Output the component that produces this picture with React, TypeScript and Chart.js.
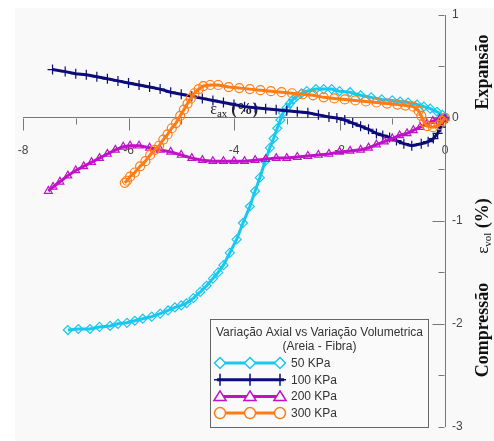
import React, { useEffect, useRef } from 'react';
import { Chart, registerables } from 'chart.js';

Chart.register(...registerables);

const legendTitle1 = 'Variação Axial vs Variação Volumetrica';
const legendTitle2 = '(Areia - Fibra)';
const seriesLabels = ['50 KPa', '100 KPa', '200 KPa', '300 KPa'];
const seriesColors = ['#19c8f0', '#0c0c78', '#c012c8', '#ff7c14'];
const seriesMarkers = ['rectRot', 'cross', 'triangle', 'circle'];
const xMajorTicks = [-8, -6, -4, -2, 0];
const xMinorTicks = [-7, -5, -3, -1];
const yMajorTicks = [-2, -1, 0];
const yMinorTicks = [-3, -2.5, -1.5, -0.5, 0.5, 1];

// 50 KPa (cyan, diamonds)
const s50: [number, number][] = [
  [0, 0], [-0.05, 0.03], [-0.15, 0.06], [-0.28, 0.09], [-0.4, 0.11], [-0.53, 0.13], [-0.7, 0.15],
  [-0.85, 0.16], [-1.0, 0.17], [-1.2, 0.18], [-1.4, 0.2], [-1.6, 0.22], [-1.8, 0.25], [-2.0, 0.26],
  [-2.15, 0.28], [-2.3, 0.28], [-2.45, 0.28], [-2.62, 0.26], [-2.72, 0.24], [-2.81, 0.21], [-2.88, 0.18],
  [-2.94, 0.14], [-3.0, 0.1], [-3.07, 0.05], [-3.12, -0.02], [-3.18, -0.1], [-3.25, -0.2], [-3.32, -0.29],
  [-3.41, -0.42], [-3.51, -0.58], [-3.6, -0.71], [-3.7, -0.86], [-3.83, -1.02], [-3.95, -1.18],
  [-4.08, -1.31], [-4.2, -1.43], [-4.3, -1.5], [-4.4, -1.56], [-4.52, -1.63], [-4.64, -1.69],
  [-4.77, -1.75], [-4.9, -1.8], [-5.0, -1.82], [-5.12, -1.84], [-5.25, -1.87], [-5.4, -1.9],
  [-5.56, -1.93], [-5.73, -1.95], [-5.88, -1.97], [-6.03, -1.99], [-6.2, -2.0], [-6.35, -2.02],
  [-6.55, -2.03], [-6.73, -2.05], [-6.95, -2.05], [-7.15, -2.06],
];

// 100 KPa (navy, crosses)
const s100: [number, number][] = [
  [0, 0], [-0.04, -0.04], [-0.08, -0.09], [-0.14, -0.15], [-0.22, -0.2], [-0.32, -0.23], [-0.45, -0.25],
  [-0.63, -0.27], [-0.78, -0.25], [-0.92, -0.22], [-1.05, -0.19], [-1.18, -0.17], [-1.3, -0.15],
  [-1.45, -0.11], [-1.6, -0.08], [-1.75, -0.05], [-1.9, -0.02], [-2.05, 0.0], [-2.2, 0.01], [-2.4, 0.03],
  [-2.6, 0.05], [-2.8, 0.06], [-3.0, 0.07], [-3.2, 0.08], [-3.4, 0.09], [-3.6, 0.1], [-3.8, 0.11],
  [-4.0, 0.13], [-4.2, 0.15], [-4.4, 0.17], [-4.6, 0.19], [-4.8, 0.21], [-5.0, 0.23], [-5.2, 0.25],
  [-5.4, 0.28], [-5.6, 0.3], [-5.8, 0.32], [-6.0, 0.34], [-6.2, 0.36], [-6.4, 0.38], [-6.6, 0.4],
  [-6.8, 0.42], [-7.0, 0.43], [-7.2, 0.45], [-7.44, 0.47],
];

// 200 KPa (purple, triangles)
const s200: [number, number][] = [
  [0, 0], [-0.1, -0.01], [-0.23, -0.03], [-0.35, -0.06], [-0.47, -0.09], [-0.6, -0.12], [-0.72, -0.15],
  [-0.86, -0.17], [-1.0, -0.2], [-1.15, -0.23], [-1.3, -0.26], [-1.45, -0.29], [-1.6, -0.31],
  [-1.8, -0.32], [-2.0, -0.33], [-2.2, -0.35], [-2.4, -0.36], [-2.6, -0.37], [-2.8, -0.38], [-3.0, -0.39],
  [-3.2, -0.39], [-3.4, -0.4], [-3.6, -0.41], [-3.8, -0.42], [-4.0, -0.42], [-4.2, -0.42], [-4.4, -0.42],
  [-4.6, -0.41], [-4.8, -0.39], [-5.0, -0.36], [-5.2, -0.33], [-5.4, -0.31], [-5.6, -0.29], [-5.8, -0.27],
  [-5.97, -0.27], [-6.1, -0.28], [-6.25, -0.31], [-6.4, -0.35], [-6.55, -0.39], [-6.7, -0.43],
  [-6.85, -0.47], [-7.0, -0.51], [-7.15, -0.56], [-7.3, -0.62], [-7.43, -0.67], [-7.52, -0.71],
];

// 300 KPa (orange, circles)
const s300: [number, number][] = [
  [0, 0], [-0.05, -0.03], [-0.12, -0.07], [-0.23, -0.09], [-0.34, -0.08], [-0.4, -0.04], [-0.45, 0.02],
  [-0.5, 0.07], [-0.6, 0.11], [-0.75, 0.12], [-0.9, 0.13], [-1.1, 0.14], [-1.3, 0.15], [-1.5, 0.16],
  [-1.7, 0.17], [-1.9, 0.18], [-2.1, 0.19], [-2.3, 0.2], [-2.5, 0.22], [-2.7, 0.23], [-2.9, 0.24],
  [-3.1, 0.25], [-3.3, 0.26], [-3.5, 0.27], [-3.7, 0.28], [-3.9, 0.29], [-4.1, 0.3], [-4.3, 0.32],
  [-4.45, 0.32], [-4.58, 0.31], [-4.67, 0.28], [-4.75, 0.24], [-4.82, 0.19], [-4.88, 0.14], [-4.95, 0.08],
  [-5.02, 0.02], [-5.1, -0.05], [-5.18, -0.1], [-5.26, -0.16], [-5.34, -0.21], [-5.42, -0.27],
  [-5.5, -0.31], [-5.59, -0.36], [-5.68, -0.42], [-5.78, -0.47], [-5.88, -0.53], [-5.97, -0.57],
  [-6.03, -0.61], [-6.07, -0.63],
];

const allSeries = [s50, s100, s200, s300];

const SANS = '"Liberation Sans", Arial, sans-serif';
const SERIF = '"Liberation Serif", "Times New Roman", serif';
const PLOT_BG = '#f9f9f9';

function drawMarker(ctx: CanvasRenderingContext2D, style: string, x: number, y: number, r: number) {
  ctx.beginPath();
  if (style === 'rectRot') {
    ctx.moveTo(x, y - r);
    ctx.lineTo(x + r, y);
    ctx.lineTo(x, y + r);
    ctx.lineTo(x - r, y);
    ctx.closePath();
    ctx.fill();
    ctx.stroke();
  } else if (style === 'cross') {
    ctx.moveTo(x, y - r);
    ctx.lineTo(x, y + r);
    ctx.moveTo(x - r, y);
    ctx.lineTo(x + r, y);
    ctx.stroke();
  } else if (style === 'triangle') {
    ctx.moveTo(x, y - r);
    ctx.lineTo(x + r * 1.1, y + r * 0.75);
    ctx.lineTo(x - r * 1.1, y + r * 0.75);
    ctx.closePath();
    ctx.fill();
    ctx.stroke();
  } else {
    ctx.arc(x, y, r, 0, Math.PI * 2);
    ctx.fill();
    ctx.stroke();
  }
}

function drawComposite(
  ctx: CanvasRenderingContext2D,
  parts: { text: string; font: string; dy: number }[],
  cx: number,
  baseY: number,
  align: 'center' | 'left'
) {
  let total = 0;
  const widths = parts.map((p) => {
    ctx.font = p.font;
    const w = ctx.measureText(p.text).width;
    total += w;
    return w;
  });
  let x = align === 'center' ? cx - total / 2 : cx;
  ctx.textAlign = 'left';
  ctx.textBaseline = 'alphabetic';
  parts.forEach((p, i) => {
    ctx.font = p.font;
    ctx.fillText(p.text, x, baseY + p.dy);
    x += widths[i];
  });
}

const backgroundPlugin = {
  id: 'pageBackground',
  beforeDraw(chart: any) {
    const ctx = chart.ctx as CanvasRenderingContext2D;
    ctx.save();
    ctx.fillStyle = '#ffffff';
    ctx.fillRect(0, 0, chart.width, chart.height);
    ctx.fillStyle = PLOT_BG;
    ctx.fillRect(15, 8, chart.width - 15, chart.height - 8);
    ctx.restore();
  },
};

const ticksAndTitlePlugin = {
  id: 'ticksAndTitle',
  beforeDatasetsDraw(chart: any) {
    const ctx = chart.ctx as CanvasRenderingContext2D;
    const xs = chart.scales.x;
    const ys = chart.scales.y;
    const y0 = Math.round(ys.getPixelForValue(0)) + 0.5;
    const x0 = Math.round(xs.getPixelForValue(0)) - 0.5;
    ctx.save();
    ctx.strokeStyle = '#777';
    ctx.lineWidth = 1;
    ctx.beginPath();
    xMajorTicks.forEach((v) => {
      const px = Math.round(xs.getPixelForValue(v)) + 0.5;
      ctx.moveTo(px, y0);
      ctx.lineTo(px, y0 + 12);
    });
    xMinorTicks.forEach((v) => {
      const px = Math.round(xs.getPixelForValue(v)) + 0.5;
      ctx.moveTo(px, y0);
      ctx.lineTo(px, y0 + 6);
    });
    yMajorTicks.forEach((v) => {
      const py = Math.round(ys.getPixelForValue(v)) + 0.5;
      ctx.moveTo(x0, py);
      ctx.lineTo(x0 - 12, py);
    });
    yMinorTicks.forEach((v) => {
      const py = Math.round(ys.getPixelForValue(v)) + 0.5;
      ctx.moveTo(x0, py);
      ctx.lineTo(x0 - 6, py);
    });
    ctx.stroke();

    // x axis title, sits just above the axis, under the curves
    ctx.fillStyle = '#222';
    const tx = xs.getPixelForValue(-4.45);
    drawComposite(
      ctx,
      [
        { text: 'ε', font: `16px ${SERIF}`, dy: 0 },
        { text: 'ax', font: `11px ${SERIF}`, dy: 3 },
        { text: ' (%)', font: `bold 16px ${SERIF}`, dy: 0 },
      ],
      tx,
      y0 - 5,
      'left'
    );
    ctx.restore();
  },
  afterDraw(chart: any) {
    const ctx = chart.ctx as CanvasRenderingContext2D;
    const area = chart.chartArea;
    ctx.save();
    ctx.fillStyle = '#111';
    const bx = area.right + 43;
    const rot = (cy: number, fn: () => void) => {
      ctx.save();
      ctx.translate(bx, cy);
      ctx.rotate(-Math.PI / 2);
      fn();
      ctx.restore();
    };
    rot(72, () => {
      drawComposite(ctx, [{ text: 'Expansão', font: `bold 18px ${SERIF}`, dy: 0 }], 0, 0, 'center');
    });
    rot(226, () => {
      drawComposite(
        ctx,
        [
          { text: 'ε', font: `17px ${SERIF}`, dy: 0 },
          { text: 'vol', font: `11px ${SERIF}`, dy: 3 },
          { text: ' (%)', font: `bold 18px ${SERIF}`, dy: 0 },
        ],
        0,
        0,
        'center'
      );
    });
    rot(330, () => {
      drawComposite(ctx, [{ text: 'Compressão', font: `bold 18px ${SERIF}`, dy: 0 }], 0, 0, 'center');
    });

    // Legend box
    const lx = 210.5;
    const ly = 319.5;
    const lw = 218;
    const lh = 108;
    ctx.fillStyle = '#fafafa';
    ctx.fillRect(lx, ly, lw, lh);
    ctx.strokeStyle = '#666';
    ctx.lineWidth = 1;
    ctx.strokeRect(lx, ly, lw, lh);
    ctx.fillStyle = '#333';
    ctx.font = `12px ${SANS}`;
    ctx.textAlign = 'center';
    ctx.textBaseline = 'middle';
    ctx.fillText(legendTitle1, lx + lw / 2, 333);
    ctx.fillText(legendTitle2, lx + lw / 2, 347);
    seriesLabels.forEach((label, i) => {
      const cy = 363 + i * 16.7;
      const c = seriesColors[i];
      ctx.strokeStyle = c;
      ctx.lineWidth = 3;
      ctx.beginPath();
      ctx.moveTo(217, cy);
      ctx.lineTo(284, cy);
      ctx.stroke();
      ctx.lineWidth = 1.5;
      ctx.fillStyle = '#fafafa';
      [220, 250, 280].forEach((mx) => drawMarker(ctx, seriesMarkers[i], mx, cy, seriesMarkers[i] === 'cross' ? 6 : 5.5));
      ctx.fillStyle = '#333';
      ctx.font = `12px ${SANS}`;
      ctx.textAlign = 'left';
      ctx.textBaseline = 'middle';
      ctx.fillText(label, 291, cy + 0.5);
    });
    ctx.restore();
  },
};

export default function App() {
  const canvasRef = useRef<HTMLCanvasElement | null>(null);

  useEffect(() => {
    const canvas = canvasRef.current;
    if (!canvas) return;
    const tickFont = { family: SANS, size: 12 };
    const chart = new Chart(canvas, {
      type: 'scatter',
      data: {
        datasets: allSeries.map((s, i) => ({
          label: seriesLabels[i],
          data: s.map(([x, y]) => ({ x, y })),
          showLine: true,
          borderColor: seriesColors[i],
          backgroundColor: 'rgba(0,0,0,0)',
          borderWidth: 3,
          pointStyle: seriesMarkers[i] as any,
          pointRadius: seriesMarkers[i] === 'cross' ? 5 : 4.5,
          pointBorderWidth: 1.2,
          pointBorderColor: seriesColors[i],
          pointBackgroundColor: 'rgba(0,0,0,0)',
          tension: 0,
          clip: false as any,
          order: 4 - i,
        })),
      },
      options: {
        responsive: false,
        animation: false,
        devicePixelRatio: 1,
        layout: { padding: { left: 23, top: 15, right: 0, bottom: 3 } },
        plugins: {
          legend: { display: false },
          tooltip: { enabled: false },
        },
        scales: {
          x: {
            type: 'linear',
            min: -8,
            max: 0,
            position: { y: 0 } as any,
            afterFit: (s: any) => {
              s.height = 0;
            },
            grid: {
              display: true,
              drawOnChartArea: false,
              drawTicks: true,
              tickLength: 12,
              tickColor: 'rgba(0,0,0,0)',
            },
            border: { display: true, color: '#777', width: 1 },
            ticks: {
              stepSize: 2,
              autoSkip: false,
              maxRotation: 0,
              padding: 14,
              color: '#444',
              font: tickFont,
            },
          },
          y: {
            type: 'linear',
            min: -3,
            max: 1,
            position: 'right',
            afterFit: (s: any) => {
              s.width = 49;
            },
            grid: {
              display: true,
              drawOnChartArea: false,
              drawTicks: false,
              tickLength: 0,
            },
            border: { display: true, color: '#777', width: 1 },
            ticks: {
              stepSize: 1,
              autoSkip: false,
              padding: 7,
              color: '#444',
              font: tickFont,
            },
          },
        },
      },
      plugins: [backgroundPlugin, ticksAndTitlePlugin],
    } as any);
    return () => chart.destroy();
  }, []);

  return (
    <div style={{ position: 'fixed', left: 0, top: 0, width: 494, height: 441 }}>
      <canvas ref={canvasRef} width={494} height={441} style={{ display: 'block' }} />
    </div>
  );
}
